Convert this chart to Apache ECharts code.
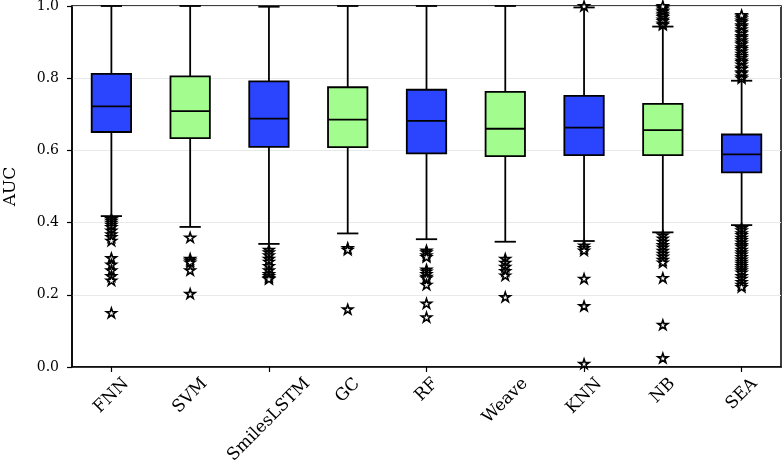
<!DOCTYPE html>
<html>
<head>
<meta charset="utf-8">
<script src="https://cdn.jsdelivr.net/npm/echarts@6/dist/echarts.min.js"></script>
<style>html,body{margin:0;padding:0;background:#fff}#c{width:784px;height:466px}</style>
</head>
<body>
<div id="c"></div>
<script>
var categories = ['FNN','SVM','SmilesLSTM','GC','RF','Weave','KNN','NB','SEA'];
var whiskerLow  = [0.418,0.388,0.341,0.370,0.354,0.347,0.349,0.373,0.393];
var q1          = [0.651,0.634,0.610,0.609,0.592,0.584,0.587,0.587,0.539];
var median      = [0.722,0.709,0.688,0.685,0.682,0.660,0.663,0.656,0.589];
var q3          = [0.812,0.805,0.791,0.775,0.768,0.762,0.751,0.729,0.644];
var whiskerHigh = [1.000,1.000,0.998,1.000,1.000,1.000,0.996,0.943,0.793];
var boxColors   = ['#2b45ff','#a2fd8e','#2b45ff','#a2fd8e','#2b45ff','#a2fd8e','#2b45ff','#a2fd8e','#2b45ff'];
var outliers = [
  [0.410,0.405,0.400,0.394,0.388,0.378,0.368,0.360,0.350,0.302,0.284,0.268,0.252,0.240,0.150],
  [0.359,0.300,0.295,0.290,0.268,0.203],
  [0.325,0.318,0.310,0.300,0.292,0.280,0.268,0.258,0.252,0.247,0.244],
  [0.330,0.325,0.160],
  [0.323,0.318,0.310,0.305,0.270,0.265,0.258,0.250,0.246,0.228,0.176,0.138],
  [0.300,0.289,0.278,0.266,0.254,0.194],
  [1.000,0.337,0.330,0.323,0.245,0.169,0.009],
  [0.948,0.952,0.959,0.963,0.970,0.974,0.979,0.985,0.988,0.993,0.997,1.000,
   0.365,0.356,0.347,0.338,0.331,0.322,0.314,0.306,0.297,0.290,0.247,0.117,0.025],
  [0.800,0.805,0.813,0.817,0.826,0.830,0.838,0.845,0.849,0.857,0.862,0.868,0.875,0.881,0.886,
   0.894,0.899,0.905,0.912,0.917,0.925,0.929,0.936,0.943,0.947,0.955,0.960,0.966,0.971,0.975,
   0.385,0.379,0.371,0.366,0.358,0.352,0.345,0.338,0.333,0.325,0.318,0.312,0.305,0.298,0.292,
   0.286,0.280,0.274,0.268,0.262,0.252,0.245,0.236,0.228,0.222]
];
var yTicks = [0, 0.2, 0.4, 0.6, 0.8, 1.0];

var boxData = categories.map(function(c,i){
  return {value:[i, whiskerLow[i], q1[i], median[i], q3[i], whiskerHigh[i]]};
});
var outlierData = [];
outliers.forEach(function(arr,i){ arr.forEach(function(v){ outlierData.push([i,v]); }); });
var labelData = categories.map(function(c,i){ return [i, 0]; });

var FONT = 'DejaVu Serif';
var XFS = 17;
var measureCtx = document.createElement('canvas').getContext('2d');
measureCtx.font = XFS + 'px "' + FONT + '"';
function textW(s){ return measureCtx.measureText(s).width; }

var starPath = 'path://M0,-100L22.45,-30.9L95.1,-30.9L36.33,11.8L58.78,80.9L0,38.2L-58.78,80.9L-36.33,11.8L-95.1,-30.9L-22.45,-30.9Z';

var chart = echarts.init(document.getElementById('c'));
chart.setOption({
  animation:false,
  backgroundColor:'#fff',
  grid:{left:72,right:3,top:6,bottom:99,show:true,borderColor:'#000',borderWidth:1.5,backgroundColor:'transparent',
        containLabel:false, outerBoundsMode:'none'},
  xAxis:{
    type:'category', data:categories,
    axisLine:{show:true,lineStyle:{color:'#000',width:1.5}},
    axisTick:{show:true,alignWithLabel:true,length:5,lineStyle:{color:'#000',width:1.2}},
    axisLabel:{show:false},
    splitLine:{show:false}
  },
  yAxis:{
    type:'value', min:0, max:1, interval:0.2,
    name:'AUC', nameLocation:'middle', nameGap:53, nameRotate:90,
    nameTextStyle:{fontFamily:FONT,fontSize:17,color:'#000'},
    axisLine:{show:true,lineStyle:{color:'#000',width:1.5}},
    axisTick:{show:true,length:5,lineStyle:{color:'#000',width:1.2}},
    axisLabel:{fontFamily:FONT,fontSize:14,color:'#000',margin:13,formatter:function(v){return v.toFixed(1);}},
    splitLine:{show:true,lineStyle:{color:'#e6eaea',width:1}}
  },
  series:[
    {
      type:'custom', data:boxData, clip:false, z:2,
      renderItem:function(params, api){
        var idx = api.value(0);
        var band = api.size([1,0])[0];
        var bw = band*0.5, cw = band*0.27;
        var pLow = api.coord([idx, api.value(1)]);
        var pQ1 = api.coord([idx, api.value(2)]);
        var pMed = api.coord([idx, api.value(3)]);
        var pQ3 = api.coord([idx, api.value(4)]);
        var pHigh = api.coord([idx, api.value(5)]);
        var x = pQ1[0];
        var ls = {stroke:'#000', lineWidth:1.8};
        return {type:'group', children:[
          {type:'line', shape:{x1:x,y1:pLow[1],x2:x,y2:pQ1[1]}, style:ls},
          {type:'line', shape:{x1:x,y1:pQ3[1],x2:x,y2:pHigh[1]}, style:ls},
          {type:'line', shape:{x1:x-cw/2,y1:pLow[1],x2:x+cw/2,y2:pLow[1]}, style:ls},
          {type:'line', shape:{x1:x-cw/2,y1:pHigh[1],x2:x+cw/2,y2:pHigh[1]}, style:ls},
          {type:'rect', shape:{x:x-bw/2,y:pQ3[1],width:bw,height:pQ1[1]-pQ3[1]},
            style:{fill:boxColors[idx], stroke:'#000', lineWidth:1.8}},
          {type:'line', shape:{x1:x-bw/2,y1:pMed[1],x2:x+bw/2,y2:pMed[1]}, style:{stroke:'#000',lineWidth:1.8}}
        ]};
      }
    },
    {
      type:'scatter', data:outlierData, z:3, clip:false,
      symbol:starPath, symbolSize:[10,10], symbolKeepAspect:true,
      itemStyle:{color:'#fff', borderColor:'#000', borderWidth:1.6, opacity:1}
    },
    {
      type:'custom', data:labelData, clip:false, z:4, silent:true,
      renderItem:function(params, api){
        var idx = api.value(0);
        var p = api.coord([idx, api.value(1)]);
        var name = categories[idx];
        var L = textW(name), h = XFS*0.85;
        var cy = p[1] + 9 + (L + h)*Math.SQRT1_2/2;
        return {type:'text', x:p[0], y:cy, rotation:Math.PI/4,
          style:{text:name, font:XFS+'px "'+FONT+'"', fill:'#000', align:'center', verticalAlign:'middle'}};
      }
    }
  ]
});
</script>
</body>
</html>
